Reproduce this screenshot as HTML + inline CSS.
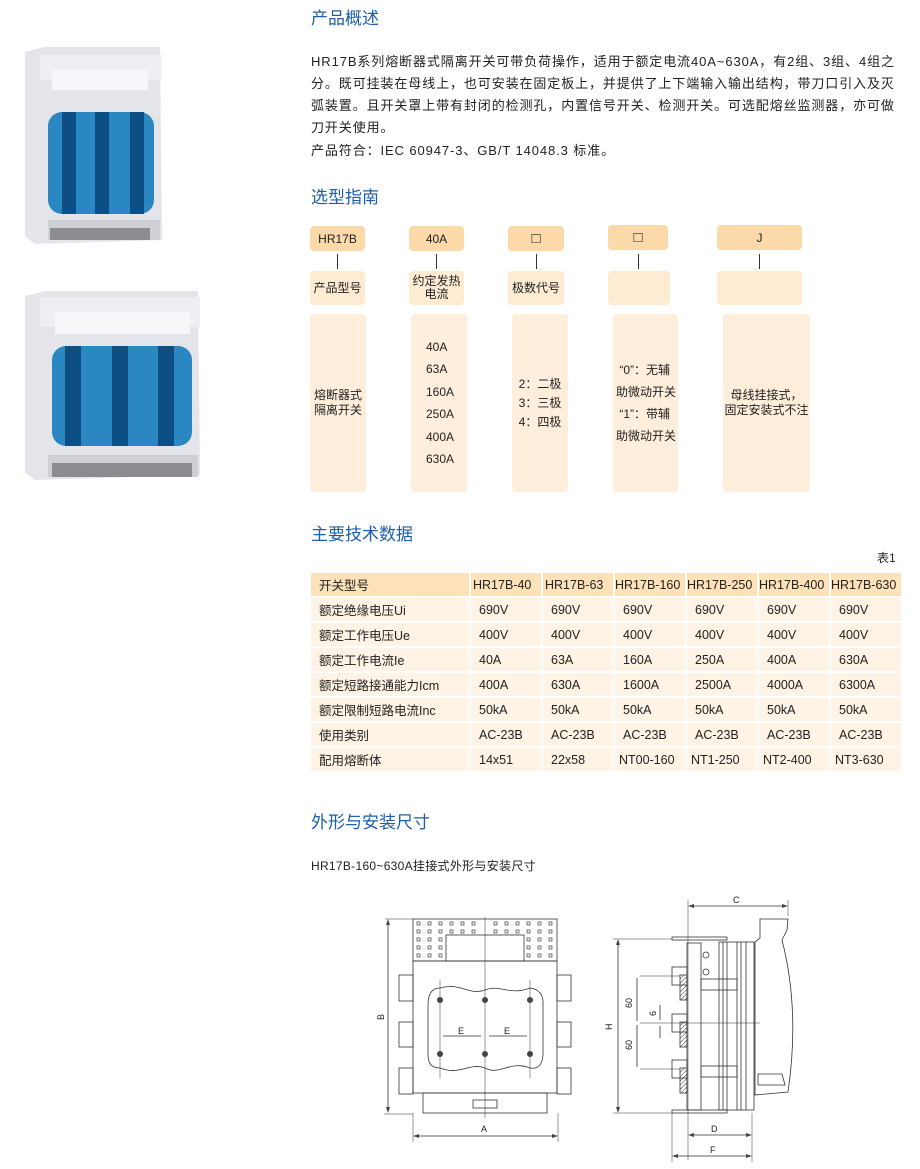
<!DOCTYPE html>
<html><head><meta charset="utf-8">
<style>
body{margin:0;width:920px;height:1169px;background:#fff;position:relative;overflow:hidden;font-family:"Liberation Sans","Noto Sans CJK SC",sans-serif;color:#222}
.a{position:absolute;white-space:nowrap}
h2{position:absolute;margin:0;font-weight:normal;font-size:17px;color:#1d5fa9;left:311px;font-family:"Liberation Sans","Noto Sans CJK SC",sans-serif}
.p{position:absolute;left:311px;font-size:13px;letter-spacing:0.9px;white-space:nowrap;color:#222}
.bx{position:absolute;border-radius:4px;display:flex;align-items:center;justify-content:center;text-align:center;font-size:12px;color:#222;line-height:14px}
.c1{background:#fcd9a8}.c2{background:#fdebd2}.c3{background:#feeedb}
.vl{position:absolute;width:1px;height:15px;background:#333;top:254px}
table{position:absolute;left:309px;top:573px;border-collapse:separate;border-spacing:2px 0;font-size:12.5px;table-layout:fixed}
td{height:25px;padding:0 0 0 8px;border-bottom:2px solid #fff;background:#fef3e4;color:#222;box-sizing:border-box;white-space:nowrap;overflow:hidden}
tr.h td{background:#fde1b9}
</style></head><body>
<svg class="a" style="left:0;top:0" width="920" height="1169">
<g>
<polygon points="25,52 45,47 160,47 162,240 35,244 25,236" fill="#e4e5ea"/>
<rect x="40" y="55" width="122" height="25" fill="#eeeff2"/>
<rect x="52" y="70" width="96" height="20" fill="#f7f7f9"/>
<rect x="48" y="112" width="106" height="102" rx="14" fill="#2b87c1"/>
<rect x="62" y="112" width="14" height="102" fill="#0d4f84"/>
<rect x="95" y="112" width="14" height="102" fill="#0d4f84"/>
<rect x="130" y="112" width="14" height="102" fill="#0d4f84"/>
<rect x="48" y="220" width="112" height="20" fill="#cfd0d5"/>
<rect x="50" y="228" width="100" height="12" fill="#8a8c90"/>
</g>
<g>
<polygon points="25,296 45,291 198,291 200,475 35,480 25,472" fill="#e4e5ea"/>
<rect x="40" y="297" width="160" height="30" fill="#eeeff2"/>
<rect x="55" y="312" width="135" height="22" fill="#f7f7f9"/>
<rect x="52" y="346" width="140" height="100" rx="14" fill="#2b87c1"/>
<rect x="65" y="346" width="16" height="100" fill="#0d4f84"/>
<rect x="112" y="346" width="16" height="100" fill="#0d4f84"/>
<rect x="158" y="346" width="16" height="100" fill="#0d4f84"/>
<rect x="48" y="455" width="150" height="22" fill="#cfd0d5"/>
<rect x="52" y="463" width="140" height="14" fill="#8a8c90"/>
</g>
<g fill="none" stroke="#333" stroke-width="0.8">
<rect x="413" y="919" width="144" height="42"/>
<rect x="413" y="961" width="144" height="132"/>
<rect x="446" y="935" width="78" height="26"/>
<rect x="423" y="1093" width="124" height="20"/>
<rect x="473" y="1100" width="24" height="8"/>
<rect x="399" y="975" width="14" height="26"/><rect x="399" y="1022" width="14" height="25"/><rect x="399" y="1068" width="14" height="26"/>
<rect x="557" y="975" width="14" height="26"/><rect x="557" y="1022" width="14" height="25"/><rect x="557" y="1068" width="14" height="26"/>
<path d="M440,988 C460,982 470,996 485,990 C500,984 510,996 530,988 Q544,990 543,1005 L543,1055 Q542,1070 530,1068 C510,1060 500,1076 485,1068 C470,1062 460,1076 440,1068 Q428,1068 428,1055 L428,1005 Q428,988 440,988Z"/>
<line x1="485" y1="917" x2="485" y2="1118" stroke-width="0.5"/>
<line x1="440" y1="980" x2="440" y2="1078" stroke-width="0.5"/><line x1="530" y1="980" x2="530" y2="1078" stroke-width="0.5"/>
<line x1="413" y1="1113" x2="413" y2="1142" stroke-width="0.5"/><line x1="558" y1="1113" x2="558" y2="1142" stroke-width="0.5"/>
<line x1="385" y1="919" x2="413" y2="919" stroke-width="0.5"/><line x1="384" y1="1114" x2="413" y2="1114" stroke-width="0.5"/>
<line x1="388" y1="921" x2="388" y2="1111"/><line x1="415" y1="1136" x2="556" y2="1136"/>
<line x1="443" y1="1036" x2="481" y2="1036"/><line x1="489" y1="1036" x2="527" y2="1036"/>
</g>
<g fill="#444">
<circle cx="440" cy="1000" r="3"/><circle cx="485" cy="1000" r="3"/><circle cx="530" cy="1000" r="3"/>
<circle cx="440" cy="1054" r="3"/><circle cx="485" cy="1054" r="3"/><circle cx="530" cy="1054" r="3"/>
<path d="M388,919 l-2,6 h4z M388,1113 l-2,-6 h4z M413,1136 l6,-2 v4z M558,1136 l-6,-2 v4z"/>
</g>
<g fill="none" stroke="#333" stroke-width="0.8">
<rect x="672" y="937" width="55" height="3"/><rect x="672" y="1110" width="55" height="3"/>
<rect x="687" y="943" width="14" height="167"/>
<rect x="719" y="942" width="35" height="168"/>
<line x1="723" y1="942" x2="723" y2="1110"/><line x1="727" y1="942" x2="727" y2="1110"/><line x1="737" y1="942" x2="737" y2="1110"/><line x1="741" y1="942" x2="741" y2="1110"/><line x1="746" y1="942" x2="746" y2="1110"/>
<path d="M755,1095 L755,942 L760,938 L760,919 L788,919 L787,930 L782,940 Q800,1010 788,1092 L755,1095Z"/>
<path d="M758,1085 L785,1085 L782,1074 L758,1074Z"/>
<rect x="672" y="967" width="15" height="18"/><rect x="672" y="1014" width="15" height="18"/><rect x="672" y="1060" width="15" height="18"/>
<rect x="701" y="979" width="36" height="11"/><rect x="701" y="1066" width="36" height="11"/>
<circle cx="706" cy="955" r="3"/><circle cx="706" cy="972" r="3"/>
<line x1="688" y1="900" x2="688" y2="1160" stroke-width="0.5"/><line x1="788" y1="900" x2="788" y2="916" stroke-width="0.5"/>
<line x1="690" y1="906" x2="786" y2="906"/>
<line x1="613" y1="939" x2="672" y2="939" stroke-width="0.5"/><line x1="613" y1="1113" x2="672" y2="1113" stroke-width="0.5"/>
<line x1="618" y1="941" x2="618" y2="1111"/>
<line x1="640" y1="976" x2="680" y2="976" stroke-width="0.5"/><line x1="640" y1="1023" x2="760" y2="1023" stroke-width="0.5"/><line x1="640" y1="1069" x2="680" y2="1069" stroke-width="0.5"/>
<line x1="637" y1="978" x2="637" y2="1021"/><line x1="637" y1="1025" x2="637" y2="1067"/>
<line x1="660" y1="1005" x2="660" y2="1020"/><line x1="660" y1="1026" x2="660" y2="1038"/>
<line x1="672" y1="1113" x2="672" y2="1162" stroke-width="0.5"/><line x1="752" y1="1113" x2="752" y2="1162" stroke-width="0.5"/>
<line x1="690" y1="1135" x2="750" y2="1135"/><line x1="674" y1="1156" x2="750" y2="1156"/>
</g>
<defs><pattern id="ht" width="3" height="3" patternUnits="userSpaceOnUse" patternTransform="rotate(45)"><line x1="0" y1="0" x2="0" y2="3" stroke="#333" stroke-width="1"/></pattern></defs>
<g stroke="#333" stroke-width="0.8" fill="url(#ht)">
<rect x="680" y="975" width="7" height="25"/><rect x="680" y="1022" width="7" height="25"/><rect x="680" y="1068" width="7" height="25"/>
</g>
<g fill="#444"><path d="M688,906 l6,-2 v4z M788,906 l-6,-2 v4z M618,939 l-2,6 h4z M618,1113 l-2,-6 h4z M688,1135 l6,-2 v4z M752,1135 l-6,-2 v4z M672,1156 l6,-2 v4z M752,1156 l-6,-2 v4z"/></g>
<g font-family="Liberation Sans" font-size="9" fill="#222">
<text x="481" y="1132">A</text><text x="733" y="903">C</text><text x="711" y="1132">D</text><text x="710" y="1153">F</text>
<text x="458" y="1034">E</text><text x="504" y="1034">E</text>
<text transform="translate(384,1020) rotate(-90)">B</text>
<text transform="translate(612,1030) rotate(-90)">H</text>
<text transform="translate(632,1008) rotate(-90)">60</text>
<text transform="translate(632,1050) rotate(-90)">60</text>
<text transform="translate(656,1016) rotate(-90)">6</text>
</g>
<g fill="none" stroke="#444" stroke-width="0.7">
<path d="M417,922h3v3h-3z M428,922h3v3h-3z M439,922h3v3h-3z M450,922h3v3h-3z M461,922h3v3h-3z M472,922h3v3h-3z M494,922h3v3h-3z M505,922h3v3h-3z M516,922h3v3h-3z M527,922h3v3h-3z M538,922h3v3h-3z M549,922h3v3h-3z
M417,930h3v3h-3z M428,930h3v3h-3z M439,930h3v3h-3z M450,930h3v3h-3z M461,930h3v3h-3z M472,930h3v3h-3z M494,930h3v3h-3z M505,930h3v3h-3z M516,930h3v3h-3z M527,930h3v3h-3z M538,930h3v3h-3z M549,930h3v3h-3z
M417,938h3v3h-3z M428,938h3v3h-3z M439,938h3v3h-3z M527,938h3v3h-3z M538,938h3v3h-3z M549,938h3v3h-3z
M417,946h3v3h-3z M428,946h3v3h-3z M439,946h3v3h-3z M527,946h3v3h-3z M538,946h3v3h-3z M549,946h3v3h-3z
M417,954h3v3h-3z M428,954h3v3h-3z M439,954h3v3h-3z M527,954h3v3h-3z M538,954h3v3h-3z M549,954h3v3h-3z"/>
</g>
</svg>

<h2 style="top:4px">产品概述</h2>
<div class="p" style="top:51px">HR17B系列熔断器式隔离开关可带负荷操作，适用于额定电流40A~630A，有2组、3组、4组之</div>
<div class="p" style="top:73px">分。既可挂装在母线上，也可安装在固定板上，并提供了上下端输入输出结构，带刀口引入及灭</div>
<div class="p" style="top:95px">弧装置。且开关罩上带有封闭的检测孔，内置信号开关、检测开关。可选配熔丝监测器，亦可做</div>
<div class="p" style="top:117px">刀开关使用。</div>
<div class="p" style="top:140px">产品符合：IEC 60947-3、GB/T 14048.3 标准。</div>
<h2 style="top:183px">选型指南</h2>

<div class="bx c1" style="left:310px;top:226px;width:55px;height:25px">HR17B</div>
<div class="bx c1" style="left:409px;top:226px;width:55px;height:25px">40A</div>
<div class="bx c1" style="left:508px;top:226px;width:56px;height:25px;font-size:15px">□</div>
<div class="bx c1" style="left:608px;top:225px;width:60px;height:25px;font-size:15px">□</div>
<div class="bx c1" style="left:717px;top:225px;width:85px;height:25px">J</div>
<div class="vl" style="left:337px"></div><div class="vl" style="left:436px"></div><div class="vl" style="left:536px"></div><div class="vl" style="left:638px"></div><div class="vl" style="left:759px"></div>
<div class="bx c2" style="left:310px;top:271px;width:55px;height:34px">产品型号</div>
<div class="bx c2" style="left:409px;top:271px;width:55px;height:34px;line-height:13px">约定发热<br>电流</div>
<div class="bx c2" style="left:508px;top:271px;width:56px;height:34px">极数代号</div>
<div class="bx c2" style="left:608px;top:271px;width:62px;height:34px"></div>
<div class="bx c2" style="left:717px;top:271px;width:85px;height:34px"></div>

<div class="bx c3" style="left:310px;top:314px;width:56px;height:178px;line-height:15px">熔断器式<br>隔离开关</div>
<div class="bx c3" style="left:411px;top:314px;width:56px;height:178px;justify-content:flex-start;padding-left:15px;box-sizing:border-box;text-align:left;line-height:22.5px">40A<br>63A<br>160A<br>250A<br>400A<br>630A</div>
<div class="bx c3" style="left:512px;top:314px;width:56px;height:178px;line-height:19px">2：二极<br>3：三极<br>4：四极</div>
<div class="bx c3" style="left:613px;top:314px;width:65px;height:178px;text-align:left;justify-content:flex-start;padding-left:3px;box-sizing:border-box;line-height:22px">&nbsp;“0”：无辅<br>助微动开关<br>&nbsp;“1”：带辅<br>助微动开关</div>
<div class="bx c3" style="left:723px;top:314px;width:87px;height:178px;line-height:15px">母线挂接式，<br>固定安装式不注</div>

<h2 style="top:520px">主要技术数据</h2>
<div class="a" style="left:877px;top:549px;font-size:12px">表1</div>
<table>
<colgroup><col style="width:158px"><col style="width:70px"><col style="width:70px"><col style="width:70px"><col style="width:70px"><col style="width:70px"><col style="width:70px"></colgroup>
<tr class="h"><td>开关型号</td><td style="padding:0 0 0 2px">HR17B-40</td><td style="padding:0 0 0 2px">HR17B-63</td><td style="padding:0">HR17B-160</td><td style="padding:0">HR17B-250</td><td style="padding:0">HR17B-400</td><td style="padding:0">HR17B-630</td></tr>
<tr><td>额定绝缘电压Ui</td><td>690V</td><td>690V</td><td>690V</td><td>690V</td><td>690V</td><td>690V</td></tr>
<tr><td>额定工作电压Ue</td><td>400V</td><td>400V</td><td>400V</td><td>400V</td><td>400V</td><td>400V</td></tr>
<tr><td>额定工作电流Ie</td><td>40A</td><td>63A</td><td>160A</td><td>250A</td><td>400A</td><td>630A</td></tr>
<tr><td>额定短路接通能力Icm</td><td>400A</td><td>630A</td><td>1600A</td><td>2500A</td><td>4000A</td><td>6300A</td></tr>
<tr><td>额定限制短路电流Inc</td><td>50kA</td><td>50kA</td><td>50kA</td><td>50kA</td><td>50kA</td><td>50kA</td></tr>
<tr><td>使用类别</td><td>AC-23B</td><td>AC-23B</td><td>AC-23B</td><td>AC-23B</td><td>AC-23B</td><td>AC-23B</td></tr>
<tr><td>配用熔断体</td><td>14x51</td><td>22x58</td><td style="padding-left:4px">NT00-160</td><td style="padding-left:4px">NT1-250</td><td style="padding-left:4px">NT2-400</td><td style="padding-left:4px">NT3-630</td></tr>
</table>

<h2 style="top:808px">外形与安装尺寸</h2>
<div class="p" style="top:857px;font-size:12px;letter-spacing:0.3px">HR17B-160~630A挂接式外形与安装尺寸</div>
</body></html>
